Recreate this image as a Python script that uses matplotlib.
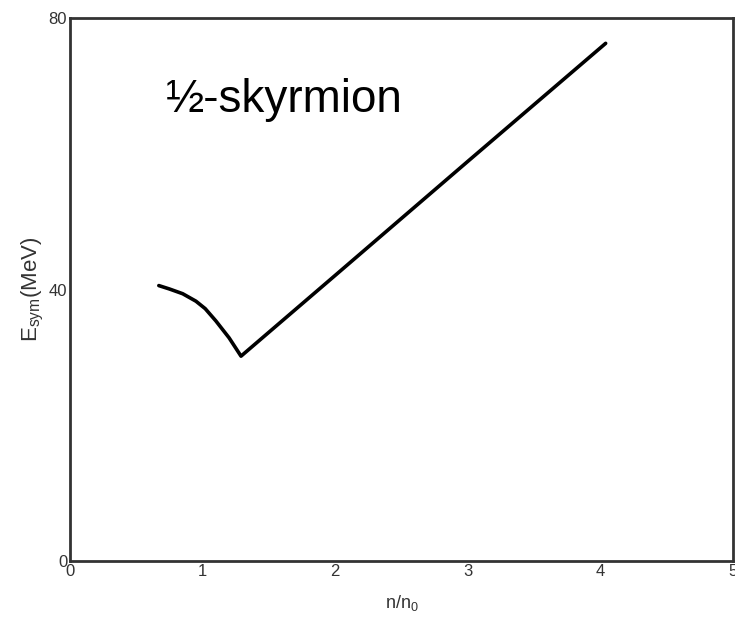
import matplotlib
matplotlib.use("Agg")
import matplotlib.pyplot as plt

plt.rcParams['font.family'] = ['Liberation Sans', 'DejaVu Sans']

# Symmetry energy vs density, half-skyrmion phase
density = [0.67, 0.75, 0.85, 0.95, 1.02, 1.10, 1.20, 1.29, 2.00, 3.00, 4.04]
e_sym = [40.6, 40.1, 39.4, 38.3, 37.2, 35.4, 32.9, 30.2, 42.1, 58.9, 76.3]

x_ticks = [0, 1, 2, 3, 4, 5]
y_ticks = [0, 40, 80]

fig = plt.figure(figsize=(7.35, 6.29), dpi=100)
ax = fig.add_axes([0.0952, 0.108, 0.902, 0.863])

ax.plot(density, e_sym, color='black', lw=2.6, solid_capstyle='round',
        solid_joinstyle='round')

ax.set_xlim(0, 5)
ax.set_ylim(0, 80)
ax.set_xticks(x_ticks)
ax.set_yticks(y_ticks)
ax.tick_params(length=0, labelsize=12, labelcolor='#333333', pad=2)
for s in ax.spines.values():
    s.set_linewidth(2.0)
    s.set_color('#333333')

ax.text(0.72, 68, '½-skyrmion', fontsize=33, color='black', va='center')

ax.set_xlabel(r'n/n$_\mathregular{0}$', fontsize=13, color='#333333', labelpad=10)
ax.set_ylabel(r'E$_\mathregular{sym}$(MeV)', fontsize=16, color='#333333', labelpad=2)

fig.savefig('out.png', dpi=100)
